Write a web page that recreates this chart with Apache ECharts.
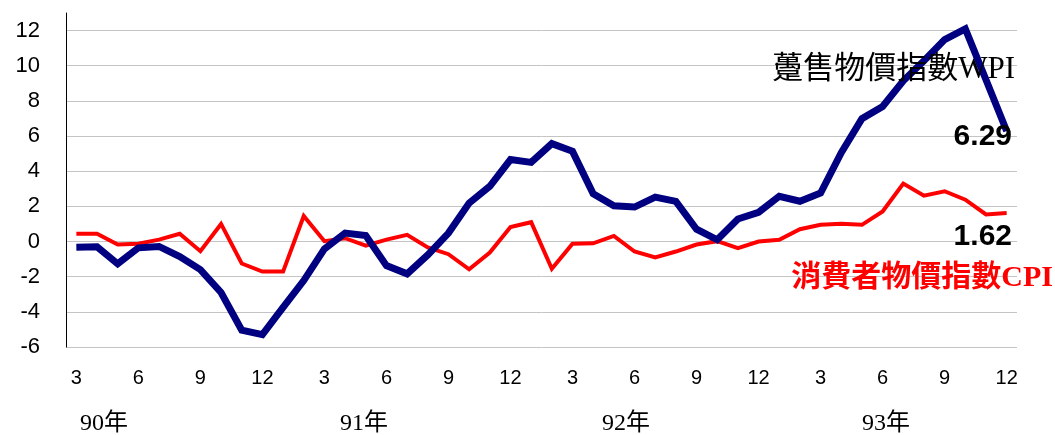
<!DOCTYPE html>
<html>
<head>
<meta charset="utf-8">
<script src="https://cdn.jsdelivr.net/npm/echarts@6/dist/echarts.min.js"></script>
<style>
  html, body { margin: 0; padding: 0; background: #fff; }
  #chart { width: 1055px; height: 435px; }
</style>
</head>
<body>
<div id="chart"></div>
<script>
// Categories: 90年3月 .. 93年12月
const years = [90, 91, 92, 93];
const categories = [];
years.forEach(function (y) {
  for (let m = 1; m <= 12; m++) {
    if (y === 90 && m < 3) continue;
    categories.push(y + '/' + m);
  }
});

// 躉售物價指數 WPI (年增率 %)
const wpi = [
  -0.32, -0.30, -1.27, -0.36, -0.28, -0.86, -1.60, -2.90, -5.04, -5.30,
  -3.75, -2.22, -0.42, 0.48, 0.34, -1.37, -1.84, -0.76, 0.48, 2.19,
  3.14, 4.66, 4.50, 5.57, 5.13, 2.72, 2.03, 1.96, 2.53, 2.28,
  0.70, 0.10, 1.28, 1.66, 2.57, 2.29, 2.76, 5.05, 6.99, 7.68,
  9.14, 10.29, 11.49, 12.10, 9.20, 6.29
];

// 消費者物價指數 CPI (年增率 %)
const cpi = [
  0.44, 0.44, -0.17, -0.13, 0.11, 0.44, -0.55, 1.00, -1.25, -1.71,
  -1.71, 1.45, 0.02, 0.19, -0.23, 0.11, 0.38, -0.34, -0.72, -1.58,
  -0.63, 0.82, 1.10, -1.55, -0.13, -0.10, 0.32, -0.57, -0.91, -0.57,
  -0.17, 0.02, -0.38, 0.00, 0.10, 0.70, 0.95, 1.01, 0.95, 1.71,
  3.30, 2.61, 2.86, 2.38, 1.54, 1.62
];

const yearLabels = ['90年', '91年', '92年', '93年'];
const seriesNames = ['躉售物價指數WPI', '消費者物價指數CPI'];

const chart = echarts.init(document.getElementById('chart'), null, { renderer: 'canvas' });

const serif = '"Liberation Serif", "Noto Sans CJK TC", serif';
const sans = '"Liberation Sans", Arial, sans-serif';

const yearX = [80, 340, 602, 862];

const option = {
  animation: false,
  backgroundColor: '#ffffff',
  grid: { left: 66, right: 38, top: 13, bottom: 88, containLabel: false },
  xAxis: {
    type: 'category',
    data: categories,
    boundaryGap: true,
    axisLine: { show: false },
    axisTick: { show: false },
    splitLine: { show: false },
    axisLabel: {
      interval: 2,
      margin: 21,
      color: '#000',
      fontFamily: sans,
      fontSize: 20,
      formatter: function (v) { return v.split('/')[1]; }
    }
  },
  yAxis: {
    type: 'value',
    min: -6,
    max: 13,
    interval: 2,
    axisLine: { show: true, lineStyle: { color: '#000', width: 1 } },
    axisTick: { show: false },
    axisLabel: {
      showMaxLabel: false,
      margin: 26,
      color: '#000',
      fontFamily: sans,
      fontSize: 22
    },
    splitLine: {
      show: true,
      showMaxLine: false,
      lineStyle: { color: '#c4c4c4', width: 1 }
    }
  },
  series: [
    {
      name: seriesNames[0],
      type: 'line',
      data: wpi,
      symbol: 'none',
      lineStyle: { color: '#000080', width: 7, join: 'miter' },
      z: 3
    },
    {
      name: seriesNames[1],
      type: 'line',
      data: cpi,
      symbol: 'none',
      lineStyle: { color: '#ff0000', width: 4, join: 'miter' },
      z: 2
    }
  ],
  graphic: [
    {
      type: 'text', right: 1055 - 1015, top: 54, z: 100,
      style: { text: seriesNames[0], font: '31px ' + serif, fill: '#000' }
    },
    {
      type: 'text', right: 2, top: 263, z: 100,
      style: { text: seriesNames[1], font: 'bold 30px ' + serif, fill: '#ff0000' }
    },
    {
      type: 'text', right: 1055 - 1012, top: 122, z: 100,
      style: { text: wpi[wpi.length - 1].toFixed(2), font: 'bold 30px ' + sans, fill: '#000' }
    },
    {
      type: 'text', right: 1055 - 1012, top: 222, z: 100,
      style: { text: cpi[cpi.length - 1].toFixed(2), font: 'bold 30px ' + sans, fill: '#000' }
    }
  ].concat(yearLabels.map(function (t, i) {
    return {
      type: 'text', left: yearX[i], top: 412, z: 100,
      style: { text: t, font: '24px ' + serif, fill: '#000' }
    };
  }))
};

chart.setOption(option);
</script>
</body>
</html>
